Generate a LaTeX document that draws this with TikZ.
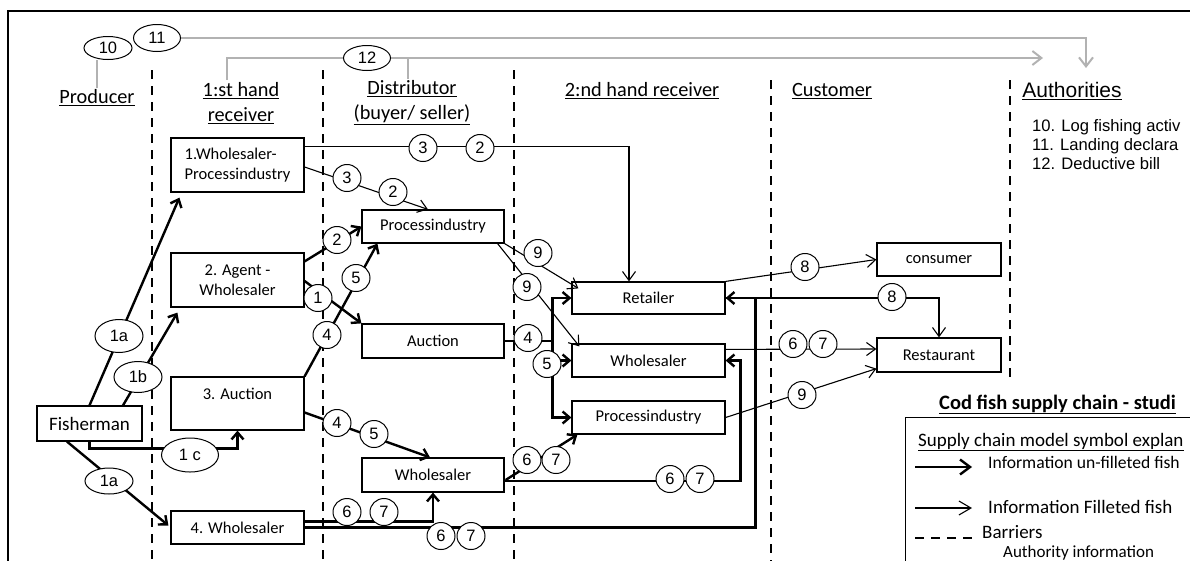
\documentclass[tikz,border=0pt]{standalone}
\usepackage{fontspec}
\setmainfont{Carlito}
\newfontfamily\arialfont{Liberation Sans}
\usetikzlibrary{arrows.meta,shapes.geometric}

\begin{document}
\begin{tikzpicture}[x=1pt,y=-1pt,
    box/.style={draw,line width=1.2pt,inner sep=1pt,align=center,font=\fontsize{16.5}{20}\selectfont},
    hd/.style={inner sep=2pt,align=center,font=\fontsize{20.3}{25}\selectfont},
    bub/.style={draw,ellipse,fill=white,line width=1pt,inner sep=0pt,minimum width=28pt,minimum height=27pt,font=\arialfont\fontsize{16.5}{16.5}\selectfont},
    thk/.style={line width=2.4pt,-{Straight Barb[length=7pt,width=12pt]}},
    thn/.style={line width=1.1pt,-{Straight Barb[length=9pt,width=13pt]}},
    bar/.style={line width=2.6pt,dash pattern=on 9pt off 7pt},
    aut/.style={line width=2pt,black!30,-{Straight Barb[length=9pt,width=14pt]}},
    lgt/.style={inner sep=0pt,font=\fontsize{19}{22}\selectfont}]
    \useasboundingbox (0,0) rectangle (1190,560);
    \clip (0,0) rectangle (1190,560);
    \draw[line width=2pt] (8,570) -- (8,11) -- (1200,11);

    \node[hd] (prod) at (97,98) {\underline{Producer}};
    \node[hd] (fhr) at (241,103) {\underline{1:st hand}\\\underline{receiver}};
    \node[hd] (dist) at (412,103) {\underline{Distributor}\\\underline{(buyer/ seller)}};
    \node[hd] (shr) at (642,91) {\underline{2:nd hand receiver}};
    \node[hd] (cust) at (832,91) {\underline{Customer}};
    \node[hd,font=\arialfont\fontsize{21}{22}\selectfont] (auth) at (1072,91) {\underline{Authorities}};
    \node[anchor=north west,align=left,inner sep=0pt,font=\arialfont\fontsize{16.6}{19}\selectfont] (alist) at (1032,119)
      {10. Log fishing activ\\11. Landing declara\\12. Deductive bill};

    \node[bub,minimum width=48pt,minimum height=23pt] (e10) at (108,48) {10};
    \node[bub,minimum width=47pt,minimum height=27pt] (e11) at (157,38) {11};
    \node[bub,minimum width=47pt,minimum height=25pt] (e12) at (367,58) {12};
    \coordinate (a11) at (1086,68);
    \coordinate (a12) at (1043,58);
    \draw[aut,-] (prod.north) -- (prod.north |- e10.south);
    \draw[aut] (e11.east) -| (a11);
    \draw[aut,-] ([xshift=-14pt]fhr.north) |- (e12.west);
    \draw[aut] (e12.east) -- (a12);
    \draw[aut,-] ([xshift=-4pt]dist.north) -- ([xshift=-4pt]dist.north |- e12.west);

    \foreach \x in {152,323,514} \draw[bar] (\x,70) -- (\x,570);
    \draw[bar] (771,80) -- (771,570);
    \draw[bar] (1010,80) -- (1010,378);

    \node[box,minimum width=133pt,minimum height=54pt,align=left] (w1) at (237.5,165) {1.Wholesaler-\\Processindustry};
    \node[box,minimum width=133pt,minimum height=54pt] (ag) at (237.5,280) {2. Agent -\\Wholesaler};
    \node[box,minimum width=133pt,minimum height=53pt] (au3) at (237.5,403.5) {3. Auction\\~};
    \node[box,minimum width=133pt,minimum height=33pt] (wh4) at (237.5,527.5) {4. Wholesaler};
    \node[box,minimum width=105pt,minimum height=35pt,font=\fontsize{19}{20}\selectfont] (fish) at (89.5,423.5) {Fisherman};
    \node[box,minimum width=142pt,minimum height=33pt] (pi1) at (433,226.5) {Processindustry};
    \node[box,minimum width=142pt,minimum height=34pt] (auc) at (433,341) {Auction};
    \node[box,minimum width=142pt,minimum height=34pt] (wh1) at (433,475) {Wholesaler};
    \node[box,minimum width=153pt,minimum height=32pt] (ret) at (648.5,298) {Retailer};
    \node[box,minimum width=153pt,minimum height=33pt] (wh2) at (648.5,360.5) {Wholesaler};
    \node[box,minimum width=153pt,minimum height=33pt] (pi2) at (648.5,417.5) {Processindustry};
    \node[box,minimum width=124pt,minimum height=33pt] (cons) at (939,259.5) {consumer};
    \node[box,minimum width=124pt,minimum height=34pt] (rest) at (939,355) {Restaurant};

    \draw[thk] (fish.north) -- ([shift={(9,5)}]w1.south west);
    \draw[thk] ([xshift=33.5pt]fish.north) -- ([shift={(7,5)}]ag.south west);
    \draw[thk] (fish.south) -- ++(0,7) -| (au3.south);
    \draw[thk] ([xshift=-22.5pt]fish.south) -- ([shift={(-2,-2)}]wh4.west);
    \draw[thk] ([shift={(0,9)}]ag.north east) -- (pi1.west);
    \draw[thk] ([shift={(0,1)}]ag.east) -- (auc.north west);
    \draw[thk] (au3.north east) -- ([shift={(16,0)}]pi1.south west);
    \draw[thk] ([shift={(0,9)}]au3.east) -- ([shift={(-3,0)}]wh1.north);
    \draw[thk] ([shift={(0,-6)}]wh4.east) -| (wh1.south);
    \draw[thk] (wh4.east) -| ([shift={(30,0)}]ret.east) -- (ret.east);
    \draw[thk,-] (auc.east) -- ++(48,0) coordinate (br);
    \draw[thk] (br) |- (ret.west);
    \draw[thk] (br) |- (wh2.west);
    \draw[thk] (br) |- (pi2.west);
    \draw[thk] ([shift={(1,5)}]wh1.east) -- ([shift={(6,0)}]pi2.south west);
    \draw[thk] ([shift={(0,6)}]wh1.east) -| ([shift={(15,0)}]wh2.east) -- (wh2.east);

    \draw[thn] ([shift={(0,9)}]w1.north east) -| ([shift={(-19.5,0)}]ret.north);
    \draw[thn] ([shift={(0,2)}]w1.east) -- ([shift={(-5,0)}]pi1.north);
    \draw[thn] (pi1.south east) -- ([shift={(7,7)}]ret.north west);
    \draw[thn] ([shift={(-7,0)}]pi1.south east) -- ([shift={(8,3)}]wh2.north west);
    \draw[thn] (ret.north east) -- (cons.west);
    \draw[thn] (ret.east) -| (rest.north);
    \draw[thn] ([shift={(0,6)}]wh2.north east) -- ([shift={(0,-6)}]rest.west);
    \draw[thn] (pi2.east) -- ([shift={(0,-4)}]rest.south west);

    \node[bub,minimum width=48pt,minimum height=33pt] (e1a) at (119,336) {1a};
    \node[bub,minimum width=48pt,minimum height=31pt] (e1b) at (138,377) {1b};
    \node[bub,minimum width=57pt,minimum height=34pt] (e1c) at (190,455) {1 c};
    \node[bub,minimum width=48pt,minimum height=26pt] (e1d) at (109,481) {1a};
    \node[bub] (c3top) at (423,148) {3};
    \node[bub] (c2top) at (480,148) {2};
    \node[bub] (c3pi) at (347,178) {3};
    \node[bub] (c2pi) at (393,192) {2};
    \node[bub] (c2ag) at (337,240) {2};
    \node[bub] (c1ag) at (318,298) {1};
    \node[bub] (c4au) at (327,335) {4};
    \node[bub] (c5au) at (356,278) {5};
    \node[bub] (c4wh) at (337,423) {4};
    \node[bub] (c5wh) at (374,434) {5};
    \node[bub] (c6wh) at (347,512) {6};
    \node[bub] (c7wh) at (384,512) {7};
    \node[bub] (c6lo) at (441,536) {6};
    \node[bub] (c7lo) at (471,536) {7};
    \node[bub] (c4br) at (528,338) {4};
    \node[bub] (c5br) at (547,364) {5};
    \node[bub] (c6pi) at (527,460) {6};
    \node[bub] (c7pi) at (556,460) {7};
    \node[bub] (c6ws) at (670,479) {6};
    \node[bub] (c7ws) at (700,479) {7};
    \node[bub] (c9re) at (538,253) {9};
    \node[bub] (c9ws) at (527,287) {9};
    \node[bub] (c8co) at (805,267) {8};
    \node[bub] (c8rs) at (892,297) {8};
    \node[bub] (c6rs) at (793,344) {6};
    \node[bub] (c7rs) at (823,344) {7};
    \node[bub] (c9rs) at (802,395) {9};

    \node[anchor=base west,inner sep=0pt,font=\bfseries\fontsize{20.5}{22}\selectfont] (ttl) at (939,409) {\underline{Cod fish supply chain - studi}};
    \node[draw,line width=1.2pt,anchor=north west,minimum width=320pt,minimum height=200pt] (leg) at (905,417) {};
    \node[lgt,anchor=base west] (lgh) at (918,446) {\underline{Supply chain model symbol explan}};
    \node[lgt,anchor=west,font=\fontsize{17.6}{22}\selectfont] (lg1) at (988,462) {Information un-filleted fish};
    \node[lgt,anchor=west] (lg2) at (988,507) {Information Filleted fish};
    \node[lgt,anchor=west] (lg3) at (982,532) {Barriers};
    \node[lgt,anchor=base west,font=\fontsize{17}{20}\selectfont] (lg4) at (1003,557) {Authority information};
    \draw[thk,-{Straight Barb[length=10pt,width=15pt]}] ([shift={(-73,5)}]lg1.west) -- ([shift={(-16,5)}]lg1.west);
    \draw[thn,-{Straight Barb[length=12pt,width=14pt]}] ([shift={(-73,1)}]lg2.west) -- ([shift={(-16,1)}]lg2.west);
    \draw[bar] ([shift={(-67,6)}]lg3.west) -- ([shift={(-10,6)}]lg3.west);
\end{tikzpicture}
\end{document}
